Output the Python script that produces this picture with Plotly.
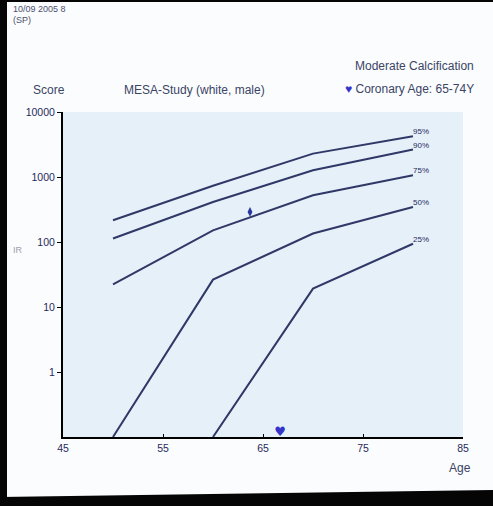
import plotly.graph_objects as go

# ---------------- data ----------------
ages = [50, 60, 70, 80]
p95 = [216, 733, 2290, 4230]
p90 = [113, 412, 1268, 2640]
p75 = [22.3, 151, 524, 1062]
p50 = [0.1, 26.4, 135, 345]
p25_ages = [60, 70, 80]
p25 = [0.1, 19.2, 94]
series = [("95%", ages, p95), ("90%", ages, p90), ("75%", ages, p75),
          ("50%", ages, p50), ("25%", p25_ages, p25)]
patient_age = [63.7]
patient_score = [290]
heart_age = [66.7]
heart_y = [0.115]
x_ticks = [45, 55, 65, 75, 85]
y_ticks = [1, 10, 100, 1000, 10000]
y_ticktext = ["1", "10", "100", "1000", "10000"]

# ---------------- layout geometry (pixels) ----------------
WIDTH, HEIGHT = 493, 506
L, R, T, B = 63, 463, 112, 437
PW, PH = R - L, B - T

def px(x):
    return (x - L) / PW

def py(y):
    return (B - y) / PH

FONT = "Liberation Sans, Arial, sans-serif"
LINE_COLOR = "#2f3866"
TEXT_COLOR = "#3a4466"
TICK_COLOR = "#1f2a5c"

fig = go.Figure()
for name, xs, ys in series:
    labels = [""] * (len(xs) - 1) + [name]
    fig.add_trace(go.Scatter(
        x=xs, y=ys, mode="lines+text", text=labels,
        textposition="top right",
        textfont=dict(family=FONT, size=8, color=TICK_COLOR),
        line=dict(color=LINE_COLOR, width=2),
        cliponaxis=False, showlegend=False, hoverinfo="skip"))

fig.add_trace(go.Scatter(
    x=patient_age, y=patient_score, mode="markers",
    marker=dict(symbol="diamond-tall", size=7, color="#2a36a0"),
    showlegend=False))

fig.add_trace(go.Scatter(
    x=heart_age, y=heart_y, mode="text", text=["♥"],
    textposition="middle center",
    textfont=dict(family="DejaVu Sans", size=13, color="#3434c8"),
    cliponaxis=False, showlegend=False))

annotations = [
    dict(text="10/09 2005 8", x=px(11), y=py(9), xanchor="left", yanchor="middle",
         font=dict(family=FONT, size=9, color="#4a5070")),
    dict(text="(SP)", x=px(11), y=py(20), xanchor="left", yanchor="middle",
         font=dict(family=FONT, size=9, color="#4a5070")),
    dict(text="Score", x=px(49), y=py(90), xanchor="center", yanchor="middle",
         font=dict(family=FONT, size=12, color=TEXT_COLOR)),
    dict(text="MESA-Study (white, male)", x=px(122), y=py(90), xanchor="left", yanchor="middle",
         font=dict(family=FONT, size=12, color=TEXT_COLOR)),
    dict(text="Moderate Calcification", x=px(476), y=py(66), xanchor="right", yanchor="middle",
         font=dict(family=FONT, size=12, color=TEXT_COLOR)),
    dict(text="<span style='color:#3434c8'>♥</span> Coronary Age: 65-74Y", x=px(476), y=py(89),
         xanchor="right", yanchor="middle",
         font=dict(family=FONT, size=12, color=TEXT_COLOR)),
    dict(text="Age", x=px(473), y=py(468), xanchor="right", yanchor="middle",
         font=dict(family=FONT, size=12, color=TEXT_COLOR)),
    dict(text="IR", x=px(18), y=py(250), xanchor="center", yanchor="middle",
         font=dict(family=FONT, size=9, color="#9aa0b0")),
]
for a in annotations:
    a.update(xref="paper", yref="paper", showarrow=False)

shapes = [
    dict(type="rect", x0=px(-2), x1=px(7), y0=py(-2), y1=py(508)),
    dict(type="rect", x0=px(-2), x1=px(495), y0=py(-2), y1=py(2)),
    dict(type="path",
         path=f"M {px(-2)},{py(497)} L {px(495)},{py(490)} L {px(495)},{py(508)} L {px(-2)},{py(508)} Z"),
]
for s in shapes:
    s.update(xref="paper", yref="paper", fillcolor="#050505", line=dict(width=0), layer="above")

fig.update_layout(
    width=WIDTH, height=HEIGHT,
    margin=dict(l=L, r=WIDTH - R, t=T, b=HEIGHT - B, pad=0),
    paper_bgcolor="#fbfcfd", plot_bgcolor="#e6f0f9",
    annotations=annotations, shapes=shapes, showlegend=False,
    xaxis=dict(range=[45, 85], tickvals=x_ticks, ticks="inside", ticklen=3,
               tickcolor="black", showline=True, linecolor="black", linewidth=2,
               showgrid=False, zeroline=False,
               tickfont=dict(family=FONT, size=10.5, color=TICK_COLOR)),
    yaxis=dict(type="log", range=[-1, 4], tickvals=y_ticks, ticktext=y_ticktext,
               ticks="outside", ticklen=4, tickcolor="black",
               showline=True, linecolor="black", linewidth=2,
               showgrid=False, zeroline=False,
               tickfont=dict(family=FONT, size=10.5, color=TICK_COLOR)),
)

fig.write_html("out.html", config={"displayModeBar": False},
               post_script="document.body.style.margin='0';document.body.style.overflow='hidden';")
